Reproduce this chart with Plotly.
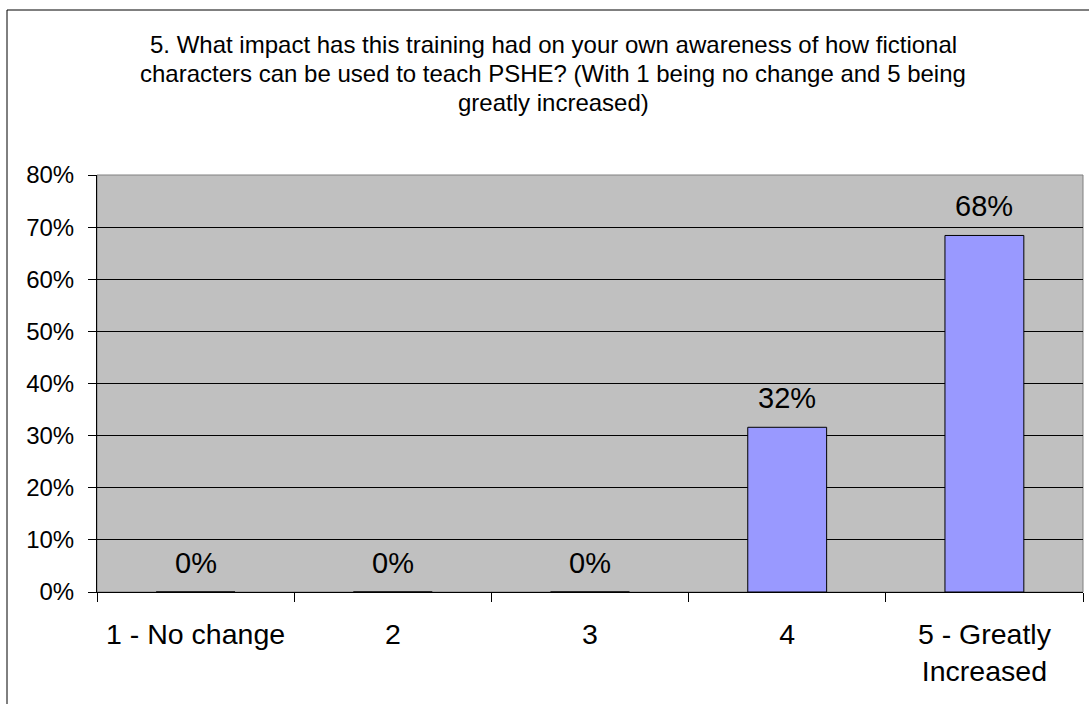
import plotly.graph_objects as go

categories = ["1 - No change", "2", "3", "4", "5 - Greatly<br>Increased"]
shares = [0.0, 0.0, 0.0, 0.316, 0.684]
share_labels = ["0%", "0%", "0%", "32%", "68%"]
y_ticks = [0, 0.1, 0.2, 0.3, 0.4, 0.5, 0.6, 0.7, 0.8]

title_lines = [
    "5. What impact has this training had on your own awareness of how fictional",
    "characters can be used to teach PSHE? (With 1 being no change and 5 being",
    "greatly increased)",
]

W, H = 1089, 704
L, R, T, B = 97, 6, 175, 112
pw, ph = W - L - R, H - T - B

fig = go.Figure()
fig.add_trace(go.Bar(
    x=categories, y=shares,
    marker=dict(color="#9999FF", line=dict(color="black", width=1)),
    width=0.4,
    hoverinfo="skip",
))

# value labels above each bar (category index as x, since some names look numeric)
for i, (val, lab) in enumerate(zip(shares, share_labels)):
    fig.add_annotation(x=i, y=val, text=lab, showarrow=False,
                       xref="x", yref="y", yanchor="bottom", yshift=11,
                       font=dict(size=29, color="black"))

# title, one annotation per line for Excel-like line spacing
for i, line in enumerate(title_lines):
    fig.add_annotation(x=(553 - L) / pw, xref="paper", xanchor="center",
                       y=(T + ph - (45 + 29 * i)) / ph, yref="paper", yanchor="middle",
                       text=line, showarrow=False,
                       font=dict(size=24, color="black"))

fig.update_layout(
    width=W, height=H,
    margin=dict(l=L, r=R, t=T, b=B, pad=0),
    paper_bgcolor="white",
    plot_bgcolor="#C0C0C0",
    font=dict(family="Liberation Sans, Arial, sans-serif", color="black"),
    showlegend=False,
    xaxis=dict(
        showgrid=False, zeroline=False, automargin=False,
        showline=True, linecolor="black", linewidth=1,
        ticks="outside", ticklen=9, tickcolor="black", tickson="boundaries",
        tickfont=dict(size=28.5),
        ticklabelstandoff=17,
    ),
    yaxis=dict(
        range=[0, 0.8], tickvals=y_ticks, tickformat=".0%",
        showgrid=True, gridcolor="black", gridwidth=1,
        zeroline=False, automargin=False,
        showline=True, linecolor="black", linewidth=1,
        ticks="outside", ticklen=8, tickcolor="black",
        tickfont=dict(size=24),
        ticklabelstandoff=9,
    ),
    shapes=[
        # plot area frame
        dict(type="rect", xref="paper", yref="paper", x0=0, x1=1, y0=0, y1=1,
             line=dict(color="#808080", width=1), layer="below"),
        # outer chart border
        dict(type="rect", xref="paper", yref="paper",
             x0=(7 - L) / pw, x1=(W + 6 - L) / pw,
             y0=(T + ph - (H + 6)) / ph, y1=(T + ph - 10) / ph,
             line=dict(color="black", width=1)),
    ],
)

fig.write_html("out.html", config={"displayModeBar": False},
               post_script="document.body.style.margin='0';")
